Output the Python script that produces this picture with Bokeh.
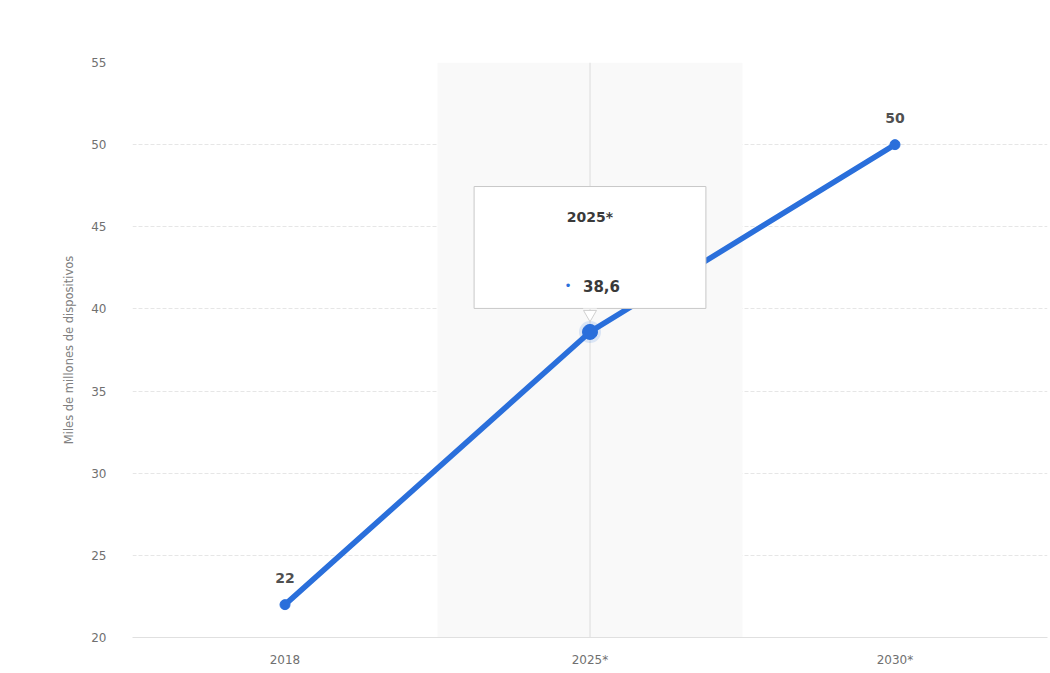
from bokeh.plotting import figure
from bokeh.embed import file_html
from bokeh.resources import INLINE
from bokeh.models import FixedTicker, ColumnDataSource
from bokeh.core.properties import value

categories = ["2018", "2025*", "2030*"]
values = [22, 38.6, 50]
value_labels = ["22", "38,6", "50"]
highlight = "2025*"
y_ticks = [20, 25, 30, 35, 40, 45, 50, 55]
y_label = "Miles de millones de dispositivos"

BLUE = "#2a6fdb"
FONT = "DejaVu Sans"

p = figure(x_range=categories, y_range=(20, 55), frame_width=915, frame_height=575,
           min_border_left=132, min_border_right=1, min_border_top=62, min_border_bottom=30,
           output_backend="svg", toolbar_location=None, outline_line_color=None,
           background_fill_color="white", border_fill_color="white")

hi = categories.index(highlight)
hv = values[hi]

# highlighted band
p.vbar(x=[highlight], top=[55], bottom=[20], width=1.0, fill_color="#f9f9f9", line_color=None)
p.segment(x0=[highlight], y0=[20], x1=[highlight], y1=[55], line_color="#dcdcdc", line_width=1)

src = ColumnDataSource(dict(x=categories, y=values, lab=value_labels))
p.line("x", "y", source=src, line_color=BLUE, line_width=5.5)
p.scatter("x", "y", source=src, size=10, fill_color=BLUE, line_color=BLUE)

# highlighted point halo
p.scatter([highlight], [hv], size=22, fill_color=BLUE, fill_alpha=0.15, line_color=None)
p.scatter([highlight], [hv], size=15, fill_color=BLUE, line_color=BLUE)

# data labels for non-highlighted points
lab_src = ColumnDataSource(dict(x=[c for i, c in enumerate(categories) if i != hi],
                                y=[v for i, v in enumerate(values) if i != hi],
                                lab=[l for i, l in enumerate(value_labels) if i != hi]))
p.text("x", "y", text="lab", source=lab_src, y_offset=-22, text_align="center",
       text_baseline="bottom", text_font=value(FONT), text_font_size="14px",
       text_font_style="bold", text_color="#505050")

# tooltip box
box_top = hv + 8.85
box_bot = hv + 1.43
p.rect(x=[highlight], y=[(box_top + box_bot) / 2], width=0.76, height=box_top - box_bot,
       fill_color="white", line_color="#c8c8c8", line_width=1)
p.rect(x=[highlight], y=[hv + 5.08], width=0.76, height=0, fill_color=None,
       line_color="#d8d8d8", line_width=1)
p.scatter([highlight], [box_bot - 0.35], marker="inverted_triangle", size=13,
          fill_color="white", line_color="#d0d0d0")
p.rect(x=[highlight], y=[box_bot + 0.02], width=0.045, height=0.05, fill_color="white",
       line_color=None)
p.text([highlight], [hv], text=[highlight], y_offset=-115, text_align="center",
       text_baseline="middle", text_font=value(FONT), text_font_size="14px",
       text_font_style="bold", text_color="#3a3a3a")
p.text([highlight], [hv], text=[value_labels[hi]], x_offset=-7, y_offset=-46,
       text_align="left", text_baseline="middle", text_font=value(FONT),
       text_font_size="15px", text_font_style="bold", text_color="#3a3a3a")
p.text([highlight], [hv], text=["•"], x_offset=-22, y_offset=-46, text_align="center",
       text_baseline="middle", text_font=value(FONT), text_font_size="12px",
       text_color=BLUE)

# axes
p.yaxis.ticker = FixedTicker(ticks=y_ticks)
p.yaxis.axis_line_color = None
p.yaxis.major_tick_line_color = None
p.yaxis.minor_tick_line_color = None
p.yaxis.major_label_standoff = 20
p.yaxis.major_label_text_font = FONT
p.yaxis.major_label_text_font_size = "12px"
p.yaxis.major_label_text_color = "#707070"
p.yaxis.axis_label = y_label
p.yaxis.axis_label_text_font = FONT
p.yaxis.axis_label_text_font_size = "11.5px"
p.yaxis.axis_label_text_font_style = "normal"
p.yaxis.axis_label_text_color = "#808080"
p.yaxis.axis_label_standoff = 12

p.xaxis.axis_line_color = "#e0e0e0"
p.xaxis.major_tick_line_color = None
p.xaxis.minor_tick_line_color = None
p.xaxis.major_label_standoff = 9
p.xaxis.major_label_text_font = FONT
p.xaxis.major_label_text_font_size = "12px"
p.xaxis.major_label_text_color = "#707070"

p.xgrid.grid_line_color = None
p.ygrid.grid_line_color = "#e6e6e6"
p.ygrid.grid_line_dash = "4 2"

open("out.html", "w").write(file_html(p, INLINE))
